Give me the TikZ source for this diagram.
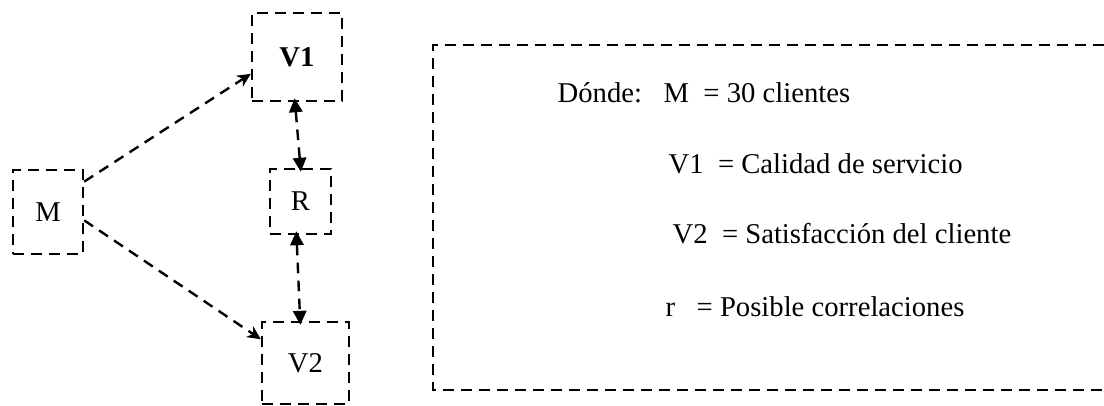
\documentclass[tikz,border=0pt]{standalone}
\usepackage{fontspec}
\setmainfont{Liberation Serif}
\usetikzlibrary{arrows.meta}

\begin{document}
\begin{tikzpicture}[x=0.75pt, y=-0.75pt, line width=1.8pt,
    raya/.style={dash pattern=on 8pt off 5.5pt},
    caja/.style={draw, raya, inner sep=0pt},
    flecha/.style={raya, -{Stealth[length=10pt, width=9.5pt, inset=3pt]}},
    doble/.style={raya, shorten <=-3pt, shorten >=-3pt,
      {Triangle[length=10.5pt, width=10pt]}-{Triangle[length=10.5pt, width=10pt]}},
    nodes={font=\fontsize{21.5}{26}\selectfont}]
  \useasboundingbox (0,0) rectangle (1104,405);
  % cajas del esquema
  \node[caja, minimum width=52.5pt, minimum height=63pt] (M) at (48,212) {M};
  \node[caja, minimum width=67.5pt, minimum height=66pt] (V1) at (297,57) {\textbf{V1}};
  \node[caja, minimum width=45.75pt, minimum height=48.75pt] (R) at (300.5,201.5) {R};
  \node[caja, minimum width=65.25pt, minimum height=61.5pt] (V2) at (305.5,363) {V2};
  % conectores
  \draw[flecha] (M.40) -- (V1.200);
  \draw[flecha] (M.-13) -- (V2.152);
  \draw[doble] ([xshift=-1.5pt]V1.south) -- (R.north);
  \draw[doble] ([xshift=-3pt]R.south) -- ([xshift=-4pt]V2.north);
  % recuadro de la leyenda
  \draw[raya] (1104,45) -- (433,45) -- (433,390) -- (1104,390);
  \node[anchor=base west] (donde) at (552,102) {Dónde:};
  \node[anchor=base west] (leyM) at (658,102) {M\ \ = 30 clientes};
  \node[anchor=base west] (leyV1) at (663,173) {V1\ \ = Calidad de servicio};
  \node[anchor=base west] (leyV2) at (667,243) {V2\ \ = Satisfacción del cliente};
  \node[anchor=base west] (leyR) at (660,316) {r\ \ \ = Posible correlaciones};
\end{tikzpicture}
\end{document}
